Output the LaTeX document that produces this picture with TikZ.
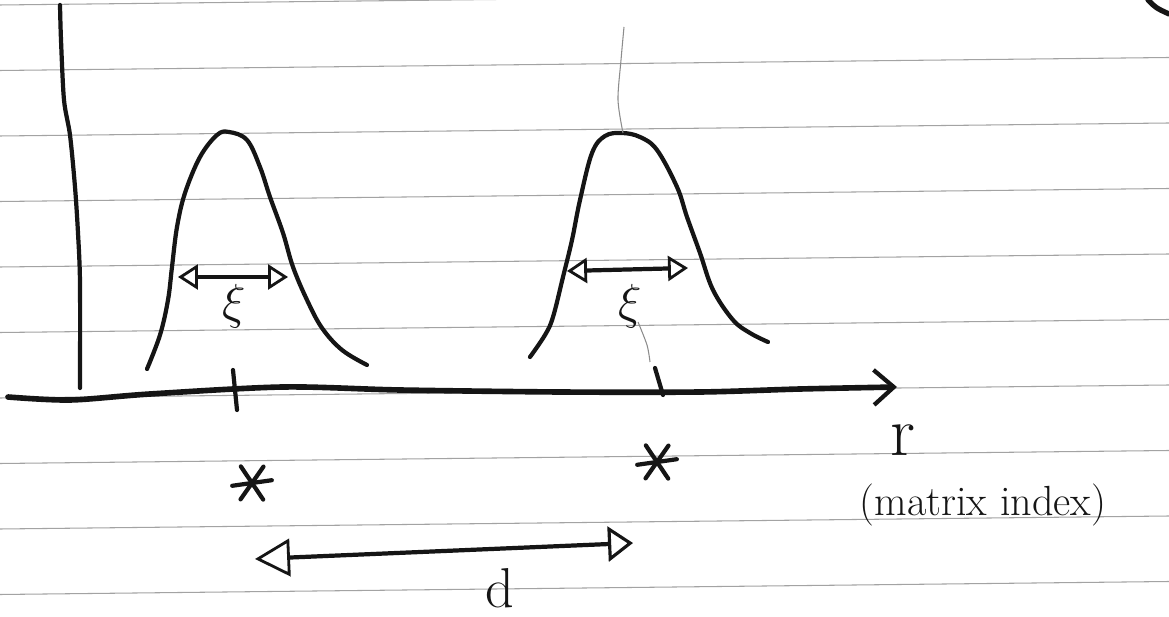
\documentclass[tikz,border=0pt]{standalone}
\usepackage{fix-cm}
\usepackage{fontspec}
\usepackage{tikz}
\usetikzlibrary{arrows.meta}
\definecolor{pencil}{HTML}{151515}
\definecolor{ruleline}{HTML}{8C8C8C}
\tikzset{
  paperline/.style={draw=ruleline!80, line width=0.6pt},
  ink/.style={draw=pencil, line width=2.4pt, line cap=round, line join=round},
  axisline/.style={ink, line width=3.2pt},
  widtharrow/.style={ink, {Triangle[open, length=4mm, width=5mm, line width=1.6pt]}-{Triangle[open, length=4mm, width=5mm, line width=1.6pt]}},
  guideline/.style={draw=black!45, line width=0.6pt},
  handtext/.style={text=pencil, inner sep=0pt}
}
\newcommand\inkstar[1]{\foreach \a in {56,-8,125} \draw[ink] (#1) ++(\a:20) -- ++(\a+180:40);}

\begin{document}
\begin{tikzpicture}[x=0.02cm, y=-0.02cm]
  \useasboundingbox (0,0) rectangle (1169,617);
  \fill[white] (0,0) rectangle (1169,617);

  % ruled paper
  \foreach \i in {0,...,9}
    \draw[paperline] (0,{5+65.5*\i}) -- (1169,{5+65.5*\i-13});
  \draw[ink, line width=3pt] (1148,0) .. controls (1156,8) .. (1169,14);

  % axes
  \draw[ink] plot[smooth] coordinates {(60,5) (61,40) (64,100) (70,135) (75,187) (78,233) (80,283) (80,388)};
  \draw[axisline, -{Straight Barb[length=4mm, width=7mm, line width=2.4pt]}]
    plot[smooth] coordinates {(8,397) (70,400) (150,394) (283,387) (400,390) (560,392) (700,392) (800,389) (897,387)};

  % the two bumps
  \draw[ink] plot[smooth, tension=0.6] coordinates {(147,369) (160,335) (168,300) (172,267) (177,227) (185,193) (200,157) (217,135) (229,132) (247,140) (260,167) (270,197) (283,233) (293,267) (307,300) (322,328) (342,350) (367,365)};
  \draw[ink] plot[smooth, tension=0.6] coordinates {(530,357) (545,335) (553,317) (563,277) (572,240) (580,200) (592,153) (605,136) (622,133) (640,137) (657,150) (677,187) (687,217) (700,253) (713,290) (733,320) (750,333) (768,342)};

  % centre marks
  \draw[ink] (233,370) -- (237,410);
  \draw[guideline] plot[smooth] coordinates {(624,27) (621,60) (618,100) (623,133)};
  \draw[guideline] plot[smooth] coordinates {(638,322) (647,345) (650,362)};
  \draw[ink] (655,368) -- (663,395);

  % widths
  \coordinate (s1a) at (178,277);
  \coordinate (s1b) at (288,277);
  \coordinate (s2a) at (567,271);
  \coordinate (s2b) at (688,268);
  \draw[widtharrow] (s1a) -- (s1b);
  \draw[widtharrow] (s2a) -- (s2b);
  \node[handtext, font=\fontsize{28}{32}\selectfont] (xi1) at (234,306) {$\xi$};
  \node[handtext, font=\fontsize{28}{32}\selectfont] (xi2) at (630,306) {$\xi$};

  % stars
  \coordinate (st1) at (252,483);
  \coordinate (st2) at (657,462);
  \inkstar{st1}
  \inkstar{st2}

  % distance
  \coordinate (da) at (255,559);
  \coordinate (db) at (633,543);
  \draw[ink, {Triangle[open, length=7mm, width=7.5mm, line width=1.6pt]}-{Triangle[open, length=5mm, width=7mm, line width=1.8pt]}] (da) -- (db);
  \node[handtext, font=\fontsize{32}{38}\selectfont] (dlab) at (500,588) {d};

  % axis label
  \node[handtext, font=\fontsize{40}{46}\selectfont] (rlab) at (903,440) {r};
  \node[handtext, font=\fontsize{24}{28}\selectfont] (idx) at (983,505) {(matrix index)};
\end{tikzpicture}
\end{document}
